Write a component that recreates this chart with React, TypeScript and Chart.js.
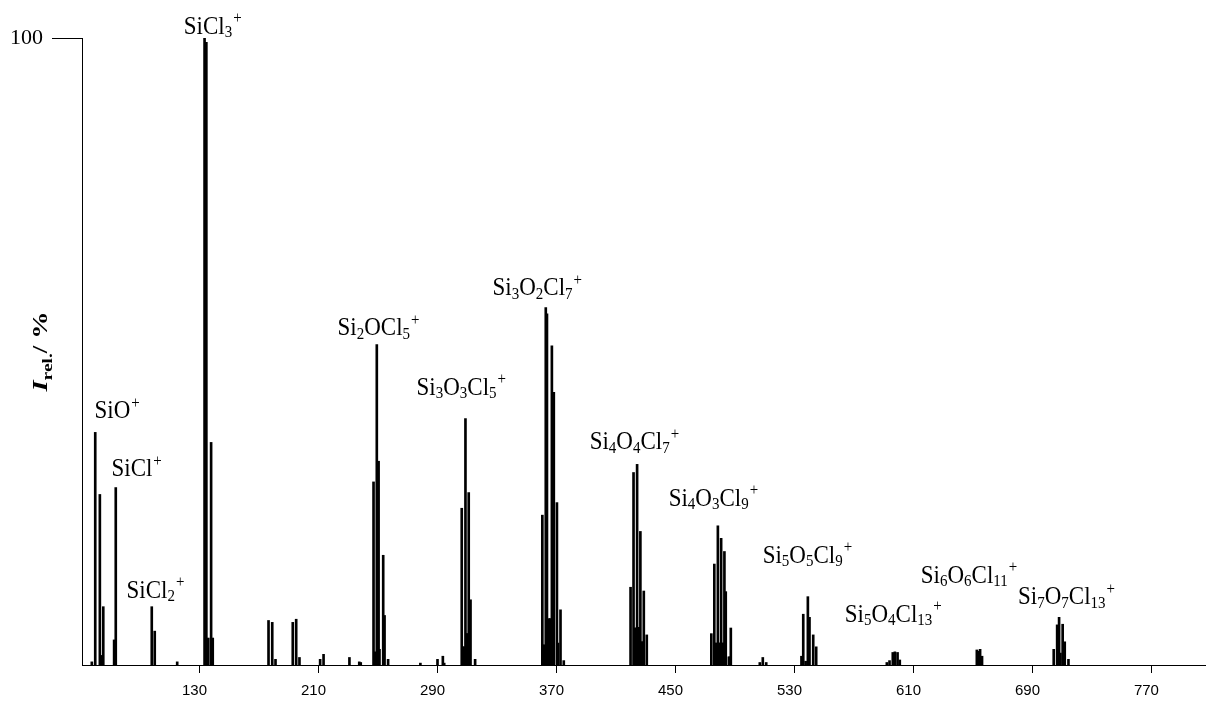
import { useEffect, useRef } from "react";
import { Chart, registerables } from "chart.js";

Chart.register(...registerables);

// m/z positions of the spectrum lines
const masses: number[] = [
  57.6, 59.9, 63.0, 63.8, 64.4, 65.3, 72.6, 73.7, 97.9, 99.9, 115.0,
  133.4, 134.6, 135.9, 137.8, 138.9,
  176.4, 178.9, 181.1, 192.7, 195.0, 197.2, 211.1, 213.4, 230.8, 237.4, 238.4,
  247.0, 247.8, 249.2, 250.4, 251.0, 253.5, 254.4, 256.8,
  278.5, 290.0, 293.6, 294.5,
  306.3, 307.2, 307.8, 308.8, 309.5, 310.1, 311.0, 312.2, 315.3,
  360.5, 361.2, 361.8, 362.8, 363.6, 365.0, 365.8, 366.9, 368.2, 370.3, 371.0, 372.7, 374.9,
  419.8, 421.8, 422.7, 423.3, 424.2, 425.0, 425.6, 426.4, 427.2, 427.8, 428.7, 430.7,
  474.1, 476.1, 476.8, 477.6, 478.5, 479.3, 480.0, 480.7, 481.5, 482.2, 482.9, 483.8, 485.9, 486.5, 487.2,
  506.7, 508.7, 511.0,
  534.7, 535.9, 537.5, 539.0, 540.1, 542.6, 544.6,
  592.1, 593.9, 596.1, 597.5, 599.3, 600.8,
  652.6, 653.7, 654.8, 656.1,
  704.3, 706.6, 707.9, 708.8, 710.3, 711.7, 714.2,
];

// relative intensities (%)
const intensities: number[] = [
  0.5, 37.1, 27.2, 1.5, 1.5, 9.3, 4.0, 28.3, 9.3, 5.4, 0.5,
  100, 99.3, 4.3, 35.5, 4.3,
  7.1, 6.8, 0.9, 6.8, 7.3, 1.2, 0.9, 1.7, 1.2, 0.5, 0.4,
  29.2, 2.1, 51.1, 32.5, 2.5, 17.5, 7.9, 0.9,
  0.3, 0.9, 1.4, 0.3,
  25.0, 2.9, 2.9, 39.3, 5.0, 5.0, 27.5, 10.4, 0.9,
  23.9, 3.2, 3.2, 57.0, 56.0, 7.4, 7.4, 50.9, 43.5, 25.9, 3.5, 8.8, 0.7,
  12.4, 30.7, 5.9, 5.9, 32.0, 6.0, 6.0, 21.3, 3.7, 3.7, 11.8, 4.8,
  5.0, 16.1, 3.5, 3.5, 22.2, 3.5, 3.5, 20.2, 3.5, 3.5, 18.1, 11.7, 1.3, 1.3, 5.9,
  0.4, 1.2, 0.4,
  1.4, 8.1, 0.6, 10.9, 7.6, 4.8, 2.9,
  0.4, 0.7, 2.0, 2.1, 2.0, 0.8,
  2.4, 2.2, 2.5, 1.4,
  2.5, 6.4, 7.6, 1.9, 6.5, 3.7, 0.9,
];

const xTicks: number[] = [130, 210, 290, 370, 450, 530, 610, 690, 770];
const yTicks: number[] = [100];

// ion labels: "_n" = subscript, "^+" = superscript
const ionLabels: string[] = [
  "SiCl_3^+", "SiO^+", "SiCl^+", "SiCl_2^+", "Si_2OCl_5^+", "Si_3O_3Cl_5^+",
  "Si_3O_2Cl_7^+", "Si_4O_4Cl_7^+", "Si_4O_3Cl_9^+", "Si_5O_5Cl_9^+",
  "Si_5O_4Cl_13^+", "Si_6O_6Cl_11^+", "Si_7O_7Cl_13^+",
];
// anchor of each label (left, baseline) in data units: m/z and %
const ionLabelMz: number[] = [
  119.4, 59.4, 70.8, 80.9, 222.8, 275.9, 327.0, 392.3, 445.4, 508.6, 563.8, 614.9, 680.3,
];
const ionLabelPct: number[] = [
  100.7, 39.4, 30.1, 10.7, 52.6, 43.1, 59.0, 34.4, 25.4, 16.3, 6.9, 13.1, 9.7,
];

const SERIF = '"Liberation Serif", "Times New Roman", serif';

function parseRich(s: string) {
  const out: { t: string; k: "n" | "sub" | "sup" }[] = [];
  const re = /_(\d+)|\^(\+)|([^_^]+)/g;
  let m: RegExpExecArray | null;
  while ((m = re.exec(s))) {
    if (m[1]) out.push({ t: m[1], k: "sub" });
    else if (m[2]) out.push({ t: m[2], k: "sup" });
    else out.push({ t: m[3], k: "n" });
  }
  return out;
}

function drawRich(ctx: CanvasRenderingContext2D, text: string, x: number, y: number, size: number) {
  let cx = x;
  ctx.textAlign = "left";
  ctx.textBaseline = "alphabetic";
  for (const p of parseRich(text)) {
    if (p.k === "n") {
      ctx.font = `${size}px ${SERIF}`;
      ctx.fillText(p.t, cx, y);
    } else if (p.k === "sub") {
      ctx.font = `${Math.round(size * 0.65)}px ${SERIF}`;
      ctx.fillText(p.t, cx, y + size * 0.14);
    } else {
      ctx.font = `${Math.round(size * 0.65)}px ${SERIF}`;
      ctx.fillText(p.t, cx + 1, y - size * 0.42);
    }
    cx += ctx.measureText(p.t).width;
  }
}

const annotationPlugin = {
  id: "annotations",
  afterDraw(chart: any) {
    const ctx: CanvasRenderingContext2D = chart.ctx;
    const xs = chart.scales.x;
    const ys = chart.scales.y;
    ctx.save();
    ctx.fillStyle = "#000";
    ionLabels.forEach((lab, i) => {
      const px = xs.getPixelForValue(ionLabelMz[i]);
      const py = ys.getPixelForValue(ionLabelPct[i]);
      ctx.save();
      ctx.translate(px, py);
      ctx.scale(1, 1.08);
      drawRich(ctx, lab, 0, 0, 23);
      ctx.restore();
    });

    // y-axis title: I_rel./ %
    const ca = chart.chartArea;
    const cy = (ca.top + ca.bottom) / 2;
    ctx.save();
    ctx.translate(ca.left - 35, cy);
    ctx.rotate(-Math.PI / 2);
    const parts = [
      { t: "I", f: `italic bold 22px ${SERIF}`, dy: 0 },
      { t: "rel.", f: `bold 15px ${SERIF}`, dy: 5 },
      { t: "/ %", f: `bold 21px ${SERIF}`, dy: 0 },
    ];
    let total = 0;
    for (const p of parts) {
      ctx.font = p.f;
      total += ctx.measureText(p.t).width;
    }
    const stretch = 80 / total;
    ctx.scale(stretch, 1);
    let cx = -total / 2;
    ctx.textAlign = "left";
    ctx.textBaseline = "alphabetic";
    for (const p of parts) {
      ctx.font = p.f;
      ctx.fillText(p.t, cx, p.dy);
      cx += ctx.measureText(p.t).width;
    }
    ctx.restore();
    ctx.restore();
  },
};

export default function App() {
  const ref = useRef<HTMLCanvasElement | null>(null);
  useEffect(() => {
    if (!ref.current) return;
    const chart = new Chart(ref.current, {
      type: "bar",
      data: {
        datasets: [
          {
            data: masses.map((m, i) => ({ x: m, y: intensities[i] })),
            backgroundColor: "#000",
            borderWidth: 0,
            barThickness: 2,
            grouped: false,
          } as any,
        ],
      },
      options: {
        animation: false,
        responsive: false,
        devicePixelRatio: 1,
        layout: { padding: { top: 38, right: 6, left: 0, bottom: 0 } },
        plugins: { legend: { display: false }, tooltip: { enabled: false } },
        scales: {
          x: {
            type: "linear",
            min: 51,
            max: 806,
            offset: false,
            afterBuildTicks: (s: any) => {
              s.ticks = xTicks.map((v) => ({ value: v }));
            },
            afterFit: (s: any) => {
              s.height = 39;
            },
            grid: { offset: false, drawOnChartArea: false, drawTicks: true, tickLength: 8, color: "#000", lineWidth: 1 },
            border: { display: true, color: "#000", width: 1 },
            ticks: {
              color: "#000",
              font: { family: '"Liberation Sans", Arial, sans-serif', size: 15 },
              padding: 9,
              labelOffset: -5,
              maxRotation: 0,
              autoSkip: false,
              callback: (v: any) => String(v),
            },
          },
          y: {
            type: "linear",
            min: 0,
            max: 100,
            afterBuildTicks: (s: any) => {
              s.ticks = yTicks.map((v) => ({ value: v }));
            },
            afterFit: (s: any) => {
              s.width = 82;
            },
            grid: { drawOnChartArea: false, drawTicks: true, tickLength: 30, color: "#000", lineWidth: 1 },
            border: { display: true, color: "#000", width: 1 },
            ticks: {
              color: "#000",
              font: { family: SERIF, size: 22 },
              padding: 9,
              callback: (v: any) => String(v),
            },
          },
        },
      },
      plugins: [annotationPlugin],
    });
    return () => chart.destroy();
  }, []);
  return (
    <div style={{ position: "absolute", left: 0, top: 0, width: 1211, height: 704, background: "#fff" }}>
      <canvas ref={ref} width={1211} height={704} style={{ width: 1211, height: 704, display: "block" }} />
    </div>
  );
}
